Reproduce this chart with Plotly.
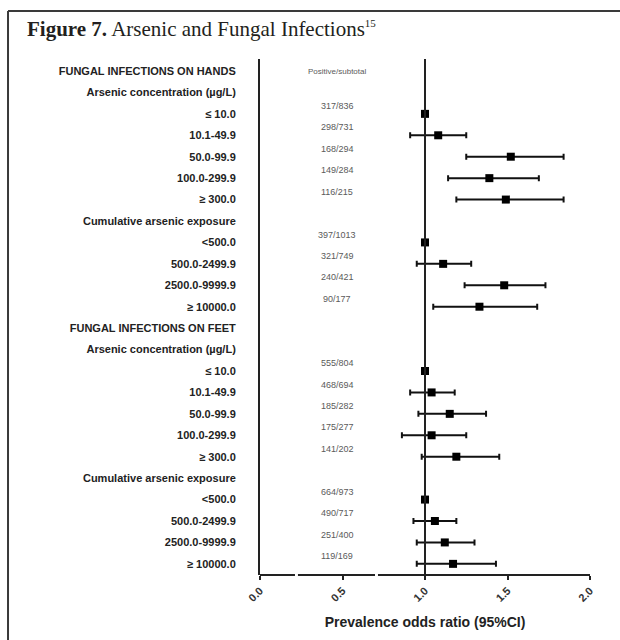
import plotly.graph_objects as go

# Forest plot rows, top to bottom
labels = [
    "FUNGAL INFECTIONS ON HANDS",
    "Arsenic concentration (µg/L)",
    "≤ 10.0", "10.1-49.9", "50.0-99.9", "100.0-299.9", "≥ 300.0",
    "Cumulative arsenic exposure",
    "<500.0", "500.0-2499.9", "2500.0-9999.9", "≥ 10000.0",
    "FUNGAL INFECTIONS ON FEET",
    "Arsenic concentration (µg/L)",
    "≤ 10.0", "10.1-49.9", "50.0-99.9", "100.0-299.9", "≥ 300.0",
    "Cumulative arsenic exposure",
    "<500.0", "500.0-2499.9", "2500.0-9999.9", "≥ 10000.0",
]
counts = [
    "Positive/subtotal", "",
    "317/836", "298/731", "168/294", "149/284", "116/215",
    "",
    "397/1013", "321/749", "240/421", "90/177",
    "", "",
    "555/804", "468/694", "185/282", "175/277", "141/202",
    "",
    "664/973", "490/717", "251/400", "119/169",
]
# Prevalence odds ratios with 95% CI (None = header row)
por = [None, None, 1.00, 1.08, 1.52, 1.39, 1.49, None, 1.00, 1.11, 1.48, 1.33,
       None, None, 1.00, 1.04, 1.15, 1.04, 1.19, None, 1.00, 1.06, 1.12, 1.17]
ci_low = [None, None, 1.00, 0.91, 1.25, 1.14, 1.19, None, 1.00, 0.95, 1.24, 1.05,
          None, None, 1.00, 0.91, 0.96, 0.86, 0.98, None, 1.00, 0.93, 0.95, 0.95]
ci_high = [None, None, 1.00, 1.25, 1.84, 1.69, 1.84, None, 1.00, 1.28, 1.73, 1.68,
           None, None, 1.00, 1.18, 1.37, 1.25, 1.45, None, 1.00, 1.19, 1.30, 1.43]
x_ticks = [0.0, 0.5, 1.0, 1.5, 2.0]
x_tick_text = ["0.0", "0.5", "1.0", "1.5", "2.0"]

rows = list(range(len(labels)))
pts = [(r, e, lo, hi) for r, e, lo, hi in zip(rows, por, ci_low, ci_high) if e is not None]
py = [p[0] for p in pts]
px = [p[1] for p in pts]
err_plus = [p[3] - p[1] for p in pts]
err_minus = [p[1] - p[2] for p in pts]

fig = go.Figure()
fig.add_trace(go.Scatter(
    x=px, y=py, mode="markers",
    marker=dict(symbol="square", size=8, color="#000000"),
    error_x=dict(type="data", symmetric=False, array=err_plus, arrayminus=err_minus,
                 color="#111111", thickness=2, width=3),
    showlegend=False, hoverinfo="skip",
))

# counts column
for r, c in zip(rows, counts):
    if not c:
        continue
    fig.add_annotation(x=0.467, y=r if r == 0 else r - 0.37, text=c, showarrow=False,
                       xanchor="center", yanchor="middle",
                       font=dict(family="Liberation Sans", size=9 if r else 8, color="#5a5a5a"))

# reference line at odds ratio 1
fig.add_shape(type="line", xref="x", yref="paper", x0=1, x1=1, y0=0, y1=1,
              line=dict(color="#222222", width=2))

# broken x-axis baseline
for a, b in [(0.0, 0.212), (0.23, 0.697), (0.715, 2.0)]:
    fig.add_shape(type="line", xref="x", yref="paper", x0=a, x1=b, y0=0, y1=0,
                  line=dict(color="#222222", width=2))

# panel frame (top and left)
fig.add_shape(type="line", xref="paper", yref="paper", x0=-0.7636, x1=1.2, y0=1.093, y1=1.093,
              line=dict(color="#3a3a3a", width=2))
fig.add_shape(type="line", xref="paper", yref="paper", x0=-0.7636, x1=-0.7636, y0=1.093, y1=-0.2,
              line=dict(color="#3a3a3a", width=2))

fig.update_layout(
    width=620, height=640,
    margin=dict(l=260, r=30, t=59, b=65, autoexpand=False),
    paper_bgcolor="white", plot_bgcolor="white",
    title=dict(text="<b>Figure 7.</b> Arsenic and Fungal Infections"
                    "<sup><span style='font-size:11px'>15</span></sup>",
               x=0.0435, xanchor="left", xref="container",
               y=0.955, yanchor="middle", yref="container",
               font=dict(family="Liberation Serif", size=21, color="#231f20")),
    xaxis=dict(range=[0, 2], tickvals=x_ticks, ticktext=x_tick_text, tickangle=-45,
               ticks="outside", ticklen=4, tickwidth=2, tickcolor="#222222",
               showline=False, showgrid=False, zeroline=False,
               tickfont=dict(family="Liberation Sans", size=11, color="#333333", weight="bold"),
               title=dict(text="Prevalence odds ratio (95%CI)", standoff=14,
                          font=dict(family="Liberation Sans", size=14, color="#222222",
                                    weight="bold"))),
    yaxis=dict(range=[23.52, -0.56], tickvals=rows, ticktext=labels, ticks="",
               showline=True, linecolor="#222222", linewidth=2,
               showgrid=False, zeroline=False, ticklabelstandoff=20,
               tickfont=dict(family="Liberation Sans", size=11, color="#222222", weight="bold")),
)

fig.write_html("out.html")
